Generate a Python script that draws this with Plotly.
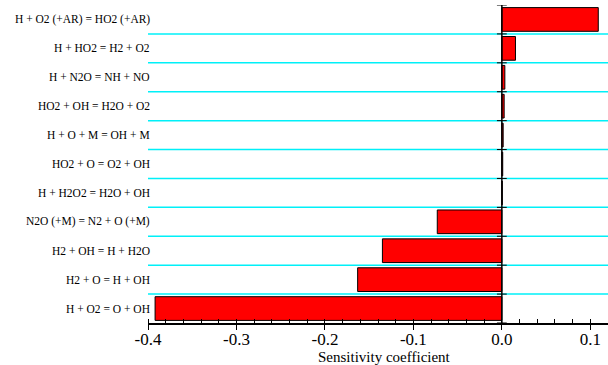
import plotly.graph_objects as go

# Reactions, listed from bottom to top of the chart
reactions = [
    "H + O2 = O + OH",
    "H2 + O = H + OH",
    "H2 + OH = H + H2O",
    "N2O (+M) = N2 + O (+M)",
    "H + H2O2 = H2O + OH",
    "HO2 + O = O2 + OH",
    "H + O + M = OH + M",
    "HO2 + OH = H2O + O2",
    "H + N2O = NH + NO",
    "H + HO2 = H2 + O2",
    "H + O2 (+AR) = HO2 (+AR)",
]
sensitivity = [-0.392, -0.163, -0.135, -0.073, 0.0005, 0.001, 0.0015, 0.0026, 0.0034, 0.0154, 0.109]

x_ticks = [-0.4, -0.3, -0.2, -0.1, 0.0, 0.1]
x_tick_text = ["-0.4", "-0.3", "-0.2", "-0.1", "0.0", "0.1"]

pos = list(range(len(reactions)))
bounds = [p + 0.5 for p in pos[:-1]]
all_bounds = [-0.5] + bounds + [len(reactions) - 0.5]

serif = "Liberation Serif, Times New Roman, serif"

fig = go.Figure()

fig.add_trace(go.Bar(
    x=sensitivity, y=pos, orientation="h", width=0.82,
    marker=dict(color="#ff0000", line=dict(color="black", width=1)),
    showlegend=False, hoverinfo="skip",
))

# zero line with small crossing ticks at each row boundary
fig.add_trace(go.Scatter(
    x=[0] * len(all_bounds), y=all_bounds, mode="lines+markers",
    line=dict(color="black", width=1.5),
    marker=dict(symbol="line-ew", size=7, line=dict(color="black", width=1)),
    showlegend=False, hoverinfo="skip",
))

shapes = []
for b in bounds:
    shapes.append(dict(type="line", xref="x", yref="y", x0=-0.4, x1=0.12, y0=b, y1=b,
                       line=dict(color="#00f0f8", width=1.5), layer="below"))

annotations = []
for p, r in zip(pos, reactions):
    annotations.append(dict(x=0, xref="paper", y=p, yref="y", text=r, showarrow=False,
                            xanchor="right", xshift=4, font=dict(family=serif, size=11.5, color="black")))
annotations.append(dict(x=0.515, xref="paper", y=-0.107, yref="paper", yanchor="middle",
                        text="Sensitivity coefficient", showarrow=False,
                        font=dict(family=serif, size=15, color="black")))

fig.update_layout(
    width=608, height=365,
    margin=dict(l=148, r=0, t=5, b=42),
    plot_bgcolor="white", paper_bgcolor="white",
    font=dict(family=serif, color="black"),
    shapes=shapes, annotations=annotations,
    xaxis=dict(range=[-0.4, 0.12], tickvals=x_ticks, ticktext=x_tick_text,
               showgrid=False, zeroline=False, showline=True, linecolor="black", linewidth=1.5,
               ticks="outside", ticklen=5, tickcolor="black", ticklabelstandoff=-5,
               minor=dict(dtick=0.02, ticks="inside", ticklen=4, tickcolor="black", showgrid=False),
               tickfont=dict(family=serif, size=17, color="black")),
    yaxis=dict(range=[-0.5, len(reactions) - 0.5], showticklabels=False, showgrid=False,
               zeroline=False, showline=False, ticks=""),
)

fig.write_html("out.html")
